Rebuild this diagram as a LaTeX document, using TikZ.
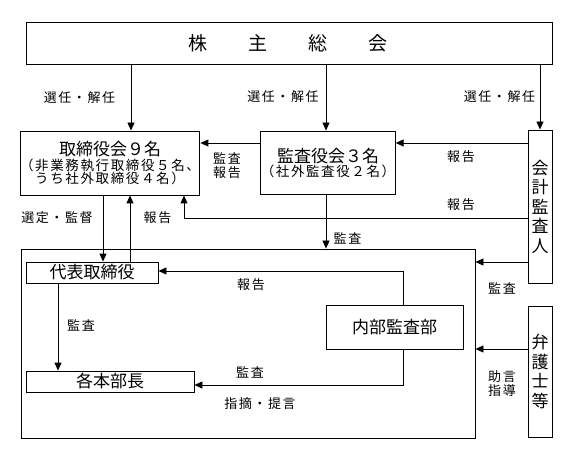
\documentclass[tikz,border=0pt]{standalone}
\usepackage{fontspec}
\setmainfont{Noto Sans CJK JP}
\newfontfamily\spaced[LetterSpace=12]{Noto Sans CJK JP}
\usetikzlibrary{arrows.meta,calc}
\tikzset{
  box/.style={draw,line width=0.9pt,inner sep=0pt,align=center,anchor=center},
  lbl/.style={inner sep=0pt,align=center,font=\spaced\fontsize{13}{15}\selectfont},
  big/.style={font=\fontsize{17}{19.5}\selectfont},
  conn/.style={line width=0.9pt},
  arr/.style={conn,-{Triangle[length=8pt,width=7pt]}}
}
\begin{document}
\begin{tikzpicture}[x=1pt,y=-1pt]
\useasboundingbox (0,0) rectangle (575,454);
% boxes
\node[box,minimum width=526pt,minimum height=42pt,font=\fontsize{19}{21}\selectfont] (gm) at (289,43) {\hspace*{-2pt}株\hspace{41pt}主\hspace{41pt}総\hspace{41pt}会};
\node[box,minimum width=166pt,minimum height=64pt] (board) at (110,163)
  {{\fontsize{17}{17}\selectfont 取締役会９名}\\[1pt]
   {\spaced\fontsize{13.5}{16}\selectfont （非業務執行取締役５名、}\\[0pt]
   {\spaced\fontsize{13.5}{16}\selectfont うち社外取締役４名）}};
\node[box,minimum width=134pt,minimum height=63pt] (audit) at (328,162.5)
  {{\fontsize{17}{17}\selectfont 監査役会３名}\\[0pt]
   {\spaced\fontsize{13.5}{16}\selectfont （社外監査役２名）}};
\node[box,big,minimum width=24pt,minimum height=153pt] (acc) at (540,206.5)
  {会\\計\\監\\査\\人};
\node[box,minimum width=454pt,minimum height=189pt] (bigbox) at (248,343.5) {};
\node[box,big,minimum width=132pt,minimum height=21pt] (rep) at (92,272.5) {代表取締役};
\node[box,big,minimum width=168pt,minimum height=21pt] (heads) at (110,381.5) {各本部長};
\node[box,big,minimum width=137pt,minimum height=44pt] (internal) at (394.5,327) {内部監査部};
\node[box,big,minimum width=24pt,minimum height=131pt] (lawyer) at (540,371.5)
  {弁\\護\\士\\等};
% helper coordinates
\coordinate (xa) at (131,0);
\coordinate (xb) at (326,0);
\coordinate (ya) at (0,143);
\coordinate (yb) at (0,218);
\coordinate (xc) at (184,0);
\coordinate (xd) at (103,0);
\coordinate (xe) at (130,0);
\coordinate (yc) at (0,262);
\coordinate (yd) at (0,349);
\coordinate (xf) at (403,0);
\coordinate (ye) at (0,271);
\coordinate (yf) at (0,385);
\coordinate (xg) at (58,0);
% connectors
\draw[arr] (gm.south -| xa) -- (board.north -| xa);
\draw[arr] (gm.south -| xb) -- (audit.north -| xb);
\draw[arr] (gm.south -| acc.north) -- (acc.north);
\draw[arr] (audit.west |- ya) -- (board.east |- ya);
\draw[arr] (acc.west |- ya) -- (audit.east |- ya);
\draw[arr] (acc.west |- yb) -- (xc |- yb) -- (board.south -| xc);
\draw[arr] (board.south -| xd) -- (rep.north -| xd);
\draw[arr] (rep.north -| xe) -- (board.south -| xe);
\draw[arr] (audit.south -| xb) -- (bigbox.north -| xb);
\draw[arr] (acc.west |- yc) -- (bigbox.east |- yc);
\draw[arr] (lawyer.west |- yd) -- (bigbox.east |- yd);
\draw[arr] (internal.north -| xf) -- (xf |- ye) -- (rep.east |- ye);
\draw[arr] (internal.south -| xf) -- (xf |- yf) -- (heads.east |- yf);
\draw[arr] (rep.south -| xg) -- (heads.north -| xg);
% labels
\node[lbl] (l1) at (79.5,98) {選任・解任};
\node[lbl] (l2) at (283,97) {選任・解任};
\node[lbl] (l3) at (499.5,97) {選任・解任};
\node[lbl] (l4) at (227,165.5) {監査\\[-1pt]報告};
\node[lbl] (l5) at (461,157) {報告};
\node[lbl] (l6) at (461,205) {報告};
\node[lbl] (l7) at (347.5,238) {監査};
\node[lbl] (l8) at (57,218) {選定・監督};
\node[lbl] (l9) at (157.5,218) {報告};
\node[lbl] (l10) at (81,325) {監査};
\node[lbl] (l11) at (251,285) {報告};
\node[lbl] (l12) at (250,372) {監査};
\node[lbl] (l13) at (260,404) {指摘・提言};
\node[lbl] (l14) at (502,288) {監査};
\node[lbl] (l15) at (502,384) {助言\\[-1pt]指導};
\end{tikzpicture}
\end{document}
